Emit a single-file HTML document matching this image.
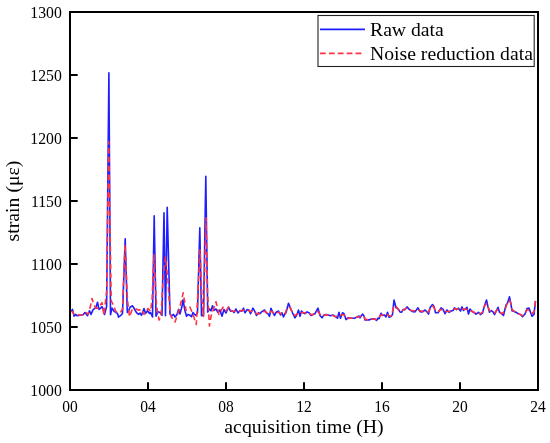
<!DOCTYPE html>
<html><head><meta charset="utf-8"><style>
html,body{margin:0;padding:0;background:#fff;}
body{width:550px;height:443px;overflow:hidden;}
svg{display:block;will-change:transform;}
text{font-family:"Liberation Serif",serif;fill:#000;}
</style></head><body>
<svg width="550" height="443" viewBox="0 0 550 443">
<rect width="550" height="443" fill="#fff"/>
<g font-size="16">
<text transform="translate(61.8,18.2) scale(0.985,1.03)" text-anchor="end">1300</text>
<text transform="translate(61.8,81.2) scale(0.985,1.03)" text-anchor="end">1250</text>
<text transform="translate(61.8,144.2) scale(0.985,1.03)" text-anchor="end">1200</text>
<text transform="translate(61.8,207.2) scale(0.985,1.03)" text-anchor="end">1150</text>
<text transform="translate(61.8,270.2) scale(0.985,1.03)" text-anchor="end">1100</text>
<text transform="translate(61.8,333.2) scale(0.985,1.03)" text-anchor="end">1050</text>
<text transform="translate(61.8,396.2) scale(0.985,1.03)" text-anchor="end">1000</text>
<text transform="translate(70,411.8) scale(0.97,1.03)" text-anchor="middle">00</text>
<text transform="translate(148,411.8) scale(0.97,1.03)" text-anchor="middle">04</text>
<text transform="translate(226,411.8) scale(0.97,1.03)" text-anchor="middle">08</text>
<text transform="translate(304,411.8) scale(0.97,1.03)" text-anchor="middle">12</text>
<text transform="translate(382,411.8) scale(0.97,1.03)" text-anchor="middle">16</text>
<text transform="translate(460,411.8) scale(0.97,1.03)" text-anchor="middle">20</text>
<text transform="translate(538,411.8) scale(0.97,1.03)" text-anchor="middle">24</text>
</g>
<text x="304" y="432.6" font-size="19.8" text-anchor="middle">acquisition time (H)</text>
<text transform="translate(19.4,201) rotate(-90)" font-size="19.75" text-anchor="middle">strain (με)</text>
<path d="M70.5,311.7 L72.5,309.4 L74.0,316.2 L75.5,314.4 L77.0,315.7 L80.0,315.3 L83.0,314.8 L85.0,312.6 L87.5,315.7 L89.5,310.8 L91.0,314.4 L93.0,309.9 L94.5,308.5 L96.0,307.2 L97.5,302.2 L99.0,309.4 L100.5,308.1 L102.0,306.7 L103.5,309.9 L104.5,314.5 L106.6,306.5 L108.9,72.8 L110.5,314.8 L112.0,308.1 L114.0,311.2 L116.0,312.6 L117.5,313.5 L118.5,317.1 L120.5,315.7 L122.5,313.5 L125.2,238.8 L127.3,312.5 L128.5,311.2 L130.0,307.2 L132.5,305.8 L134.5,309.0 L136.5,312.6 L138.5,314.4 L140.0,313.0 L141.5,315.3 L144.0,308.5 L145.5,313.5 L147.5,310.8 L149.5,313.5 L150.5,312.5 L152.5,317.0 L154.2,215.8 L156.0,316.2 L158.0,311.7 L160.0,312.5 L162.0,315.3 L164.0,212.8 L165.5,315.7 L167.2,207.3 L170.0,314.0 L171.5,316.2 L173.5,314.4 L175.0,317.1 L177.0,314.4 L178.5,309.4 L180.0,313.9 L182.0,306.3 L183.0,299.9 L185.0,310.8 L186.5,316.2 L188.0,314.4 L190.0,315.3 L191.5,316.7 L193.0,312.5 L194.5,314.4 L196.0,315.3 L197.5,312.5 L199.8,227.8 L201.5,315.7 L203.5,315.3 L205.8,176.2 L207.7,312.1 L209.5,309.0 L211.0,310.8 L212.5,305.8 L214.0,310.3 L216.0,309.0 L218.0,312.5 L220.0,309.9 L222.0,316.2 L224.0,309.4 L226.0,313.0 L228.5,307.2 L230.5,311.2 L232.5,310.8 L234.0,312.5 L236.0,309.0 L238.0,313.0 L240.0,310.5 L242.0,311.2 L243.5,308.2 L245.0,312.8 L247.0,309.6 L249.0,310.0 L250.5,313.7 L253.0,308.2 L255.0,311.9 L256.5,315.5 L258.5,312.8 L260.0,313.7 L261.5,311.9 L264.5,310.0 L266.5,313.2 L268.0,313.7 L269.5,316.4 L271.0,308.2 L272.5,311.9 L274.5,315.5 L276.0,312.3 L278.5,311.0 L280.5,315.0 L282.0,312.8 L283.5,316.9 L285.0,313.5 L286.0,312.8 L288.5,303.2 L290.5,308.2 L292.5,312.8 L295.0,317.8 L297.0,314.5 L298.5,310.0 L300.0,316.4 L301.5,311.0 L303.0,312.8 L305.0,313.7 L307.0,311.9 L309.0,312.8 L311.0,315.5 L313.0,314.5 L315.0,313.7 L318.0,308.2 L320.0,315.5 L322.0,317.8 L324.0,315.0 L326.0,314.5 L328.0,315.0 L330.5,315.7 L333.0,315.0 L335.0,316.4 L337.5,318.2 L339.0,312.3 L340.5,318.2 L342.5,312.8 L344.0,313.7 L346.0,319.6 L348.0,317.8 L351.0,318.2 L354.5,318.2 L357.0,316.9 L359.0,316.0 L360.0,317.8 L362.5,314.1 L364.0,316.0 L365.0,320.0 L367.0,319.6 L369.0,320.0 L372.0,318.7 L374.5,318.7 L376.5,320.5 L378.0,318.2 L379.0,318.7 L381.0,313.2 L382.5,315.5 L384.5,315.0 L386.0,316.9 L387.5,312.3 L389.0,317.3 L391.0,316.4 L392.5,314.5 L394.0,300.0 L396.0,307.8 L398.0,308.7 L400.0,311.9 L401.5,312.3 L403.0,309.6 L405.0,309.6 L407.0,306.9 L409.0,309.1 L412.0,311.4 L415.0,311.9 L418.0,307.8 L420.0,311.7 L422.5,311.9 L425.0,310.0 L427.0,311.9 L428.5,314.1 L430.0,307.8 L432.5,304.6 L434.0,306.4 L435.5,312.8 L438.0,312.8 L441.0,307.8 L443.0,309.1 L445.0,313.7 L447.0,310.0 L449.0,312.3 L451.0,311.0 L453.0,310.5 L454.5,307.8 L456.5,309.6 L458.5,308.2 L460.5,311.0 L462.0,306.9 L463.5,310.5 L465.0,309.1 L467.0,307.3 L468.5,314.1 L470.0,309.1 L472.0,311.4 L474.0,312.3 L476.0,314.1 L478.5,312.3 L480.5,314.6 L482.5,313.2 L484.0,307.3 L486.5,300.0 L488.0,306.9 L489.5,312.3 L491.0,310.5 L493.0,311.9 L494.5,314.6 L496.5,310.5 L498.0,307.3 L499.5,312.3 L501.5,313.7 L503.5,315.5 L506.0,304.9 L507.5,303.1 L509.5,296.8 L511.0,304.5 L512.0,310.8 L515.0,311.7 L518.0,313.5 L521.0,314.9 L522.5,316.7 L525.0,314.0 L527.0,308.5 L529.0,308.1 L532.0,316.2 L534.0,314.4 L535.5,300.9" fill="none" stroke="#1e1eff" stroke-width="1.6" stroke-linejoin="round"/>
<path d="M70.5,311.5 L72.5,311.5 L74.0,314.4 L77.0,314.8 L80.0,315.0 L83.0,314.8 L86.0,312.5 L88.0,314.4 L90.0,308.1 L92.0,298.5 L94.0,304.9 L96.0,308.1 L98.0,308.1 L100.0,305.4 L102.0,302.7 L104.0,315.3 L106.7,290.5 L108.7,141.8 L111.2,300.5 L113.0,304.5 L116.0,311.7 L118.0,312.6 L121.0,311.7 L122.5,309.0 L125.0,244.8 L127.5,300.5 L129.5,316.7 L132.0,309.9 L135.0,308.5 L139.0,310.3 L141.5,309.0 L144.0,314.4 L148.0,308.5 L150.5,311.5 L152.0,300.5 L154.0,254.8 L156.5,305.5 L159.0,320.0 L161.0,316.5 L163.0,280.8 L165.5,256.8 L168.0,280.8 L170.0,312.5 L171.5,317.2 L175.0,322.0 L179.0,310.5 L183.2,292.9 L186.0,310.5 L190.0,307.2 L193.0,314.5 L196.3,324.5 L198.0,290.5 L200.0,249.8 L202.0,300.5 L203.5,316.5 L206.0,217.8 L207.5,290.5 L209.4,326.0 L211.0,316.5 L213.0,310.5 L216.0,301.8 L219.0,314.5 L223.0,307.2 L226.0,311.0 L228.5,307.2 L230.5,310.1 L232.5,311.3 L234.0,311.2 L236.0,310.9 L238.0,311.4 L240.0,311.3 L242.0,310.3 L243.5,310.1 L245.0,310.9 L247.0,310.5 L249.0,310.8 L250.5,311.4 L253.0,310.5 L255.0,311.9 L256.5,313.9 L258.5,313.7 L260.0,313.0 L261.5,311.9 L264.5,311.3 L266.5,312.5 L268.0,314.2 L269.5,313.7 L271.0,311.2 L272.5,311.9 L274.5,313.8 L276.0,312.8 L278.5,312.3 L280.5,313.4 L282.0,314.4 L283.5,315.0 L285.0,314.2 L286.0,310.6 L288.5,306.9 L290.5,308.1 L292.5,312.9 L295.0,315.7 L297.0,314.2 L298.5,312.7 L300.0,313.4 L301.5,312.8 L303.0,312.6 L305.0,313.0 L307.0,312.6 L309.0,313.2 L311.0,314.6 L313.0,314.6 L315.0,312.5 L318.0,311.4 L320.0,314.2 L322.0,316.5 L324.0,315.6 L326.0,314.8 L328.0,315.1 L330.5,315.4 L333.0,315.5 L335.0,316.5 L337.5,316.3 L339.0,315.2 L340.5,315.4 L342.5,314.4 L344.0,315.0 L346.0,317.7 L348.0,318.4 L351.0,318.1 L354.5,317.9 L357.0,317.0 L359.0,316.7 L360.0,316.4 L362.5,315.5 L364.0,316.5 L365.0,318.9 L367.0,319.8 L369.0,319.6 L372.0,319.0 L374.5,319.1 L376.5,319.5 L378.0,318.9 L379.0,317.2 L381.0,315.1 L382.5,314.8 L384.5,315.6 L386.0,315.3 L387.5,314.7 L389.0,315.8 L391.0,316.1 L392.5,311.4 L394.0,305.6 L396.0,306.1 L398.0,309.3 L400.0,311.2 L401.5,311.5 L403.0,310.3 L405.0,308.9 L407.0,308.1 L409.0,309.1 L412.0,310.9 L415.0,310.8 L418.0,309.8 L420.0,310.8 L422.5,311.4 L425.0,310.9 L427.0,312.0 L428.5,312.0 L430.0,308.6 L432.5,305.9 L434.0,307.6 L435.5,311.2 L438.0,311.6 L441.0,309.4 L443.0,309.9 L445.0,311.6 L447.0,311.5 L449.0,311.4 L451.0,311.2 L453.0,309.9 L454.5,308.9 L456.5,308.8 L458.5,309.2 L460.5,309.3 L462.0,308.8 L463.5,309.2 L465.0,309.0 L467.0,309.5 L468.5,311.1 L470.0,310.9 L472.0,311.1 L474.0,312.5 L476.0,313.2 L478.5,313.3 L480.5,313.7 L482.5,312.1 L484.0,306.9 L486.5,303.5 L488.0,306.5 L489.5,310.5 L491.0,311.3 L493.0,312.2 L494.5,312.9 L496.5,310.7 L498.0,309.4 L499.5,311.4 L501.5,313.8 L503.5,312.4 L506.0,307.1 L507.5,302.0 L509.5,300.3 L511.0,304.1 L512.0,309.4 L515.0,311.9 L518.0,313.4 L521.0,315.0 L522.5,315.6 L525.0,313.3 L527.0,309.8 L529.0,310.2 L532.0,313.7 L534.0,311.5 L535.5,300.9" fill="none" stroke="#ff3344" stroke-width="1.6" stroke-dasharray="5.6 3.3" stroke-linejoin="round"/>
<g stroke="#000" stroke-width="2">
<line x1="70" y1="75" x2="77.7" y2="75"/><line x1="70" y1="138" x2="77.7" y2="138"/><line x1="70" y1="201" x2="77.7" y2="201"/><line x1="70" y1="264" x2="77.7" y2="264"/><line x1="70" y1="327" x2="77.7" y2="327"/><line x1="148" y1="390" x2="148" y2="382.2"/><line x1="226" y1="390" x2="226" y2="382.2"/><line x1="304" y1="390" x2="304" y2="382.2"/><line x1="382" y1="390" x2="382" y2="382.2"/><line x1="460" y1="390" x2="460" y2="382.2"/>
</g>
<rect x="70" y="12" width="468" height="378" fill="none" stroke="#000" stroke-width="2"/>
<rect x="318" y="15.5" width="216.2" height="51" fill="#fff" stroke="#222" stroke-width="1.1"/>
<line x1="320" y1="29.3" x2="365" y2="29.3" stroke="#1e1eff" stroke-width="1.7"/>
<line x1="320" y1="53.4" x2="362" y2="53.4" stroke="#ff3344" stroke-width="1.7" stroke-dasharray="5.8 3.1"/>
<g font-size="19.7">
<text x="370" y="35.7">Raw data</text>
<text x="370" y="59.5">Noise reduction data</text>
</g>
</svg>
</body></html>
